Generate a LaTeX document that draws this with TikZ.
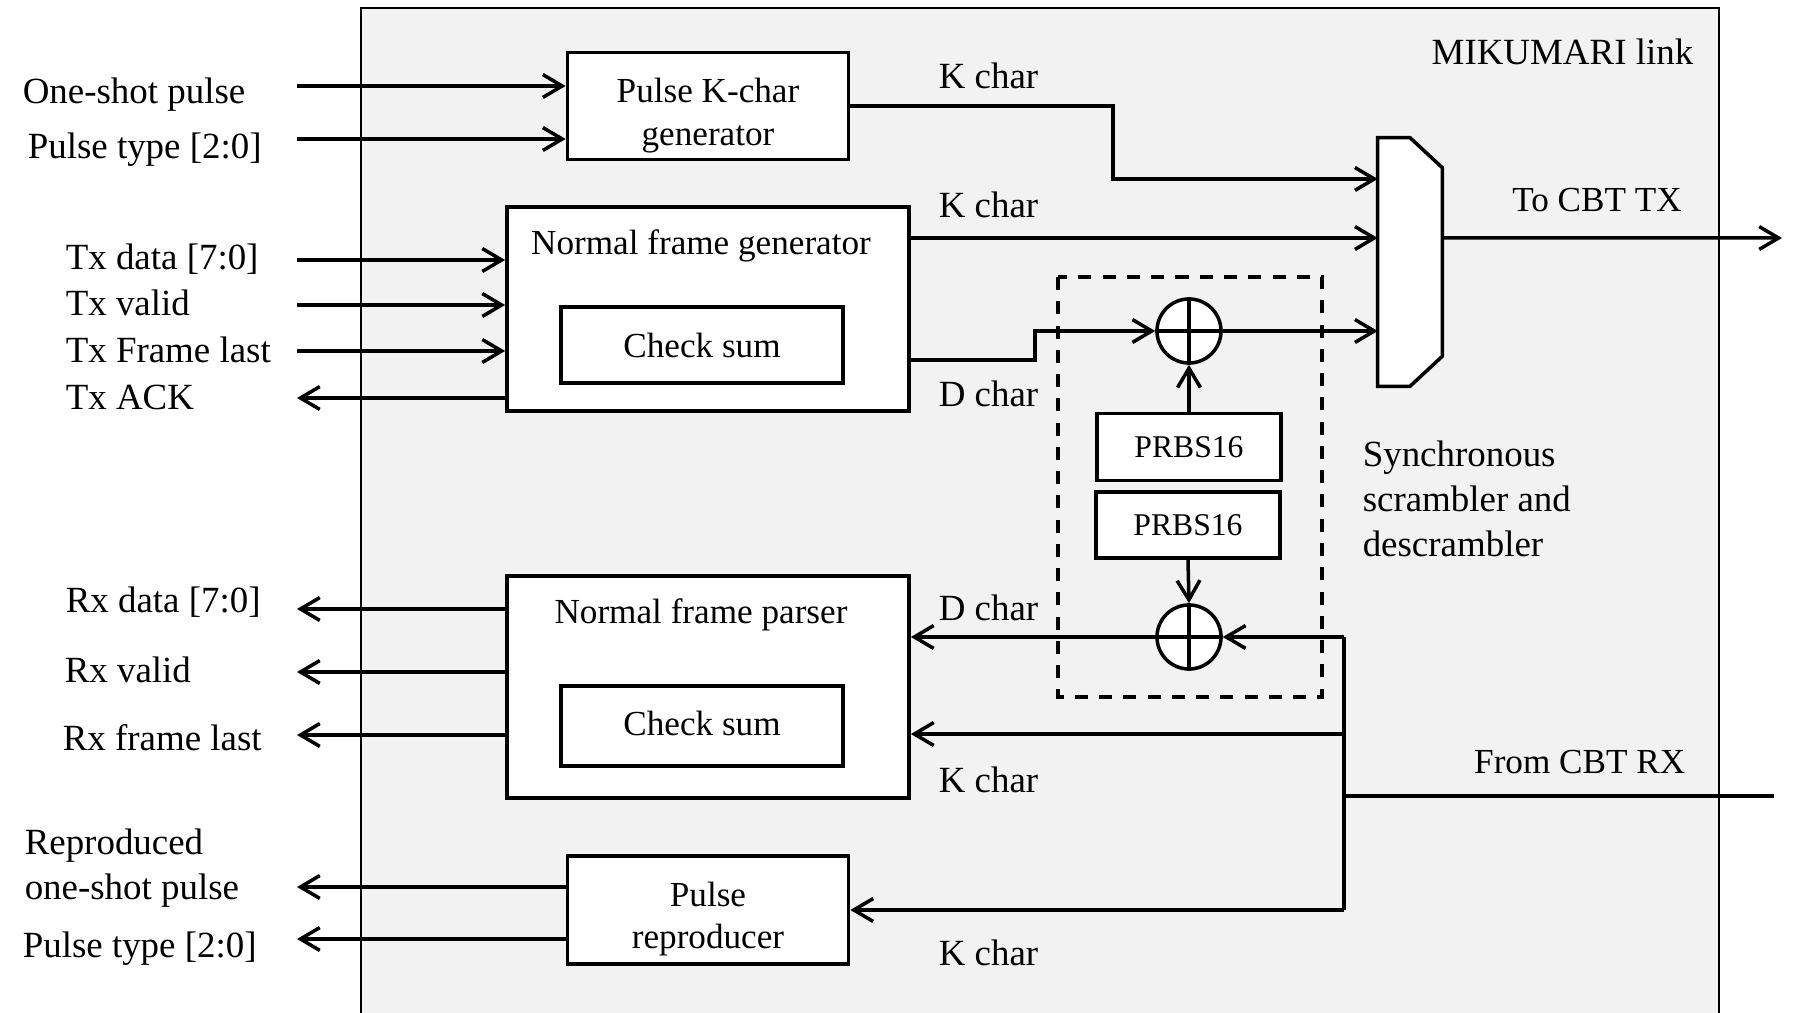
\documentclass[tikz,border=0pt]{standalone}
\usepackage{fontspec}
\setmainfont{Liberation Serif}
\usetikzlibrary{arrows.meta}
\definecolor{linkgray}{HTML}{F2F2F2}

\begin{document}
\begin{tikzpicture}[x=0.01cm, y=-0.01cm, line width=1pt,
  arr/.style={-{Straight Barb[length=5.5pt,width=6.5pt]}},
  blk/.style={draw, fill=white, inner sep=0pt, align=center, font=\fontsize{10}{12.2}\selectfont},
  lbl/.style={inner sep=0pt, anchor=west, font=\fontsize{10.5}{12.7}\selectfont},
  xorgate/.style={circle, draw, fill=white, minimum size=0.64cm, inner sep=0pt}]
\useasboundingbox (0,0) rectangle (1796,1013);
% MIKUMARI link block
\fill[linkgray] (361,8) rectangle (1719,1013);
\draw[line width=0.8pt] (361,1013) |- (1719,8) -- (1719,1013);
\node[lbl, anchor=east] (linkname) at (1695,52) {MIKUMARI link};
% Blocks
\node[blk, minimum width=2.81cm, minimum height=1.07cm] (pkg) at (708,106) {};
\node[lbl, anchor=center, align=center, font=\fontsize{10}{12.2}\selectfont] (pkgtxt) at (708,116) {Pulse K-char\\generator};
\node[blk, minimum width=4.02cm, minimum height=2.04cm] (nfg) at (708,309) {};
\node[lbl, anchor=center, font=\fontsize{10}{12.2}\selectfont] (nfgtxt) at (701,246) {Normal frame generator};
\node[blk, minimum width=2.82cm, minimum height=0.76cm] (csg) at (702,345) {Check sum};
\node[blk, minimum width=4.02cm, minimum height=2.22cm] (nfp) at (708,687) {};
\node[lbl, anchor=center, font=\fontsize{10}{12.2}\selectfont] (nfptxt) at (701,615) {Normal frame parser};
\node[blk, minimum width=2.82cm, minimum height=0.80cm] (csp) at (702,726) {};
\node[lbl, anchor=center, font=\fontsize{10}{12.2}\selectfont] (csptxt) at (702,723) {Check sum};
\node[blk, minimum width=2.81cm, minimum height=1.08cm] (prep) at (708,910) {};
\node[lbl, anchor=center, align=center, font=\fontsize{10}{12.2}\selectfont] (preptxt) at (708,919) {Pulse\\reproducer};
% Multiplexer
\node[minimum width=0.61cm, minimum height=2.45cm, inner sep=0pt] (mux) at (1410,262) {};
\draw[fill=white] (mux.north west) -- (mux.north) -- ([yshift=-0.30cm]mux.north east)
  -- ([yshift=0.30cm]mux.south east) -- (mux.south) -- (mux.south west) -- cycle;
\coordinate (muxA) at ([yshift=0.83cm]mux.west);
\coordinate (muxB) at ([yshift=0.24cm]mux.west);
% Scrambler and descrambler
\draw[dashed, dash pattern=on 3.7pt off 3.2pt] (1058,277) rectangle (1322,697);
\node[xorgate] (xu) at (1189,331) {};
\draw (xu.north) -- (xu.south) (xu.west) -- (xu.east);
\node[xorgate] (xd) at (1189,637) {};
\draw (xd.north) -- (xd.south) (xd.west) -- (xd.east);
\node[blk, minimum width=1.84cm, minimum height=0.67cm, font=\fontsize{9}{11}\selectfont] (prbsA) at (1189,447) {PRBS16};
\node[blk, minimum width=1.84cm, minimum height=0.66cm, font=\fontsize{9}{11}\selectfont] (prbsB) at (1188,525) {PRBS16};
\node[lbl, align=left] (scrtxt) at (1361,499) {Synchronous\\scrambler and\\descrambler};
% Left side ports
\coordinate (inOne) at (297,86);
\coordinate (inType) at (297,139);
\coordinate (txd) at (297,260);
\coordinate (txv) at (297,305);
\coordinate (txf) at (297,351);
\coordinate (txa) at (297,398);
\coordinate (rxd) at (297,609);
\coordinate (rxv) at (297,672);
\coordinate (rxf) at (297,735);
\coordinate (rep) at (297,887);
\coordinate (rtype) at (297,939);
\node[lbl] (lOne) at (21,95) {One-shot pulse};
\node[lbl] (lType) at (26,150) {Pulse type [2:0]};
\node[lbl] (ltxd) at (64,259) {Tx data [7:0]};
\node[lbl] (ltxv) at (64,303) {Tx valid};
\node[lbl] (ltxf) at (64,350) {Tx Frame last};
\node[lbl] (ltxa) at (64,397) {Tx ACK};
\node[lbl] (lrxd) at (64,602) {Rx data [7:0]};
\node[lbl] (lrxv) at (63,670) {Rx valid};
\node[lbl] (lrxf) at (61,738) {Rx frame last};
\node[lbl, align=left, anchor=west] (lrep) at (23,868) {Reproduced\\one-shot pulse};
\node[lbl] (lrtype) at (21,949) {Pulse type [2:0]};
\draw[arr] (inOne) -- (inOne -| pkg.west);
\draw[arr] (inType) -- (inType -| pkg.west);
\draw[arr] (txd) -- (txd -| nfg.west);
\draw[arr] (txv) -- (txv -| nfg.west);
\draw[arr] (txf) -- (txf -| nfg.west);
\draw[arr] (txa -| nfg.west) -- (txa);
\draw[arr] (rxd -| nfp.west) -- (rxd);
\draw[arr] (rxv -| nfp.west) -- (rxv);
\draw[arr] (rxf -| nfp.west) -- (rxf);
\draw[arr] (rep -| prep.west) -- (rep);
\draw[arr] (rtype -| prep.west) -- (rtype);
% Transmit side
\draw[arr] (pkg.east) -- (1113,106) |- (muxA);
\draw[arr] (muxB -| nfg.east) -- (muxB);
\draw[arr] ([yshift=-0.51cm]nfg.east) -- ++(124,0) |- (xu.west);
\draw[arr] (prbsA.north) -- (xu.south);
\draw[arr] (xu.east) -- (xu.east -| mux.west);
\coordinate (txout) at (1782,238);
\draw[arr] (muxB -| mux.east) -- (txout);
\node[lbl, anchor=center, font=\fontsize{10}{12.2}\selectfont] (ltx) at (1597,200) {To CBT TX};
\node[lbl] (kA) at (937,76) {K char};
\node[lbl] (kB) at (937,205) {K char};
\node[lbl] (dA) at (937,394) {D char};
% Receive side
\coordinate (rxin) at (1774,796);
\coordinate (rxbus) at (1344,637);
\coordinate (kp) at ([yshift=-0.47cm]nfp.east);
\draw (rxin) -- (rxin -| rxbus);
\draw (rxbus) -- (prep.east -| rxbus);
\draw[arr] (prbsB.south) -- (xd.north);
\draw[arr] (rxbus) -- (xd.east);
\draw[arr] (xd.west) -- (xd.west -| nfp.east);
\draw[arr] (kp -| rxbus) -- (kp);
\draw[arr] (prep.east -| rxbus) -- (prep.east);
\node[lbl, anchor=east, font=\fontsize{10}{12.2}\selectfont] (lrx) at (1687,762) {From CBT RX};
\node[lbl] (dB) at (937,608) {D char};
\node[lbl] (kC) at (937,780) {K char};
\node[lbl] (kD) at (937,953) {K char};
\end{tikzpicture}
\end{document}
